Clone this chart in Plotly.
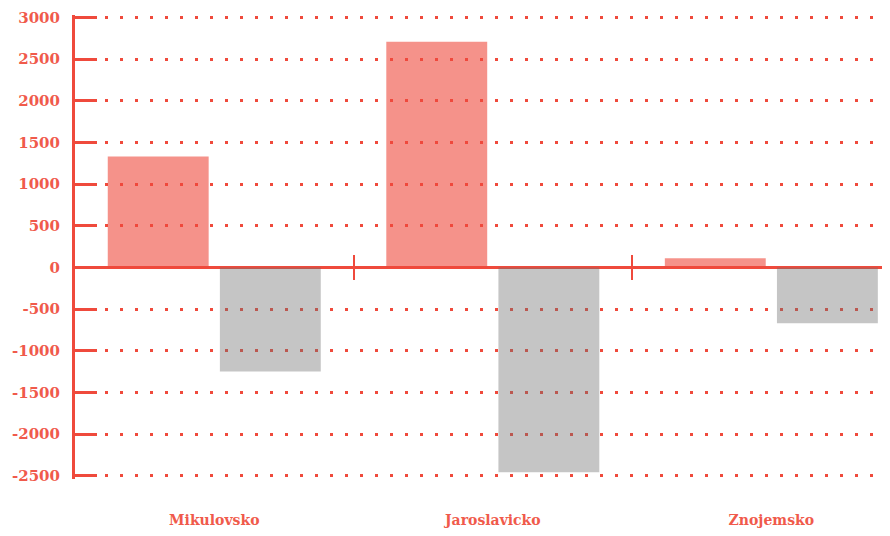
import plotly.graph_objects as go

categories = ["Mikulovsko", "Jaroslavicko", "Znojemsko"]
positive_values = [1330, 2710, 110]
negative_values = [-1250, -2460, -670]
y_tickvals = [3000, 2500, 2000, 1500, 1000, 500, 0, -500, -1000, -1500, -2000, -2500]
y_ticktext = [str(v) for v in y_tickvals]  # plain hyphen for negatives

RED = "#ef4a3c"
LABEL = "#f05a4b"
FONT = "DejaVu Serif"

fig = go.Figure()
fig.add_trace(go.Bar(x=categories, y=positive_values,
                     marker=dict(color="rgba(239,74,60,0.6)", line=dict(width=0))))
fig.add_trace(go.Bar(x=categories, y=negative_values,
                     marker=dict(color="rgba(110,110,110,0.4)", line=dict(width=0))))

# helper traces (not drawn) so the category-separator axes get rendered
idx = list(range(len(categories)))
for ax in ["x2", "x3"]:
    fig.add_trace(go.Scatter(x=idx, y=[0] * len(idx), xaxis=ax, mode="none",
                             hoverinfo="skip", showlegend=False))

y_min, y_max = -2540, 3030
zero_pos = (0 - y_min) / (y_max - y_min)
x_range = [-0.5, 2.426]

sep_axis = dict(overlaying="x", anchor="free", position=zero_pos, type="linear",
                range=x_range, tickmode="array", tickvals=[0.5, 1.5],
                showticklabels=False, showgrid=False, showline=False, zeroline=False,
                ticklen=12, tickwidth=2, tickcolor=RED, automargin=False)

fig.update_layout(
    width=882, height=520,
    margin=dict(l=67, r=0, t=7, b=49),
    paper_bgcolor="white", plot_bgcolor="white",
    showlegend=False,
    barmode="group", bargap=0.195, bargroupgap=0.1,
    font=dict(family=FONT, color=LABEL),
    xaxis=dict(type="category", range=x_range, showgrid=False, showline=False,
               zeroline=False, ticks="", ticklabelstandoff=31, automargin=False,
               tickfont=dict(family=FONT, size=14, color=LABEL, weight="bold")),
    xaxis2=dict(sep_axis, ticks="outside"),
    xaxis3=dict(sep_axis, ticks="inside"),
    yaxis=dict(range=[y_min, y_max], tickmode="array", tickvals=y_tickvals,
               ticktext=y_ticktext,
               showline=True, linecolor=RED, linewidth=3, automargin=False,
               ticks="inside", ticklen=22, tickwidth=3, tickcolor=RED,
               showgrid=True, gridcolor=RED, gridwidth=3, griddash="3px,12px",
               zeroline=True, zerolinecolor=RED, zerolinewidth=3,
               ticklabelstandoff=9,
               tickfont=dict(family=FONT, size=15, color=LABEL, weight="bold")),
)

fig.write_html("out.html")
